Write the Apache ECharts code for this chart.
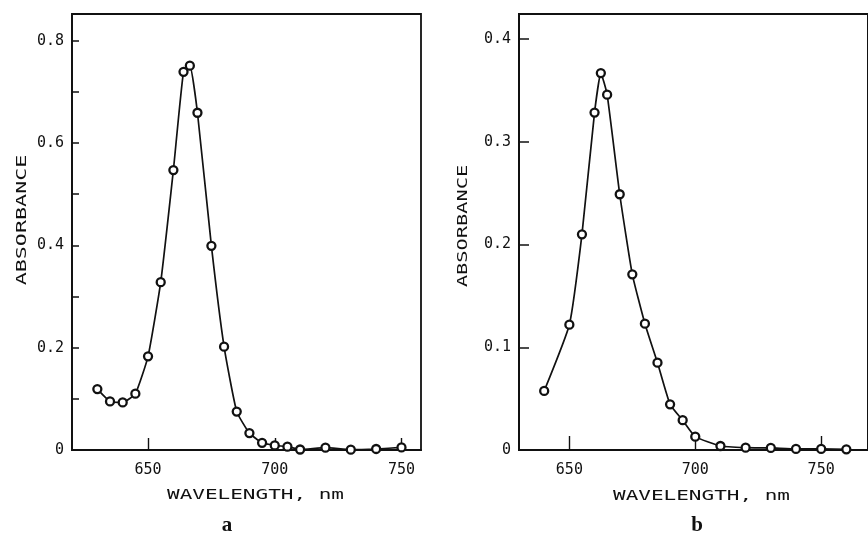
<!DOCTYPE html>
<html>
<head>
<meta charset="utf-8">
<script src="https://cdn.jsdelivr.net/npm/echarts@6/dist/echarts.min.js"></script>
<style>
html,body{margin:0;padding:0;background:#fff;}
#chart{width:868px;height:537px;}
</style>
</head>
<body>
<div id="chart"></div>
<script>
// Panel a
const wavelengthA = [630, 635, 640, 645, 650, 655, 660, 664, 666.5, 669.5, 675, 680, 685, 690, 695, 700, 705, 710, 720, 730, 740, 750];
const absorbanceA = [0.119, 0.095, 0.093, 0.110, 0.183, 0.328, 0.547, 0.739, 0.751, 0.659, 0.399, 0.202, 0.075, 0.033, 0.014, 0.009, 0.0065, 0.001, 0.0045, 0.0006, 0.002, 0.005];
// Panel b
const wavelengthB = [640, 650, 655, 660, 662.5, 665, 670, 675, 680, 685, 690, 695, 700, 710, 720, 730, 740, 750, 760];
const absorbanceB = [0.0575, 0.122, 0.210, 0.3285, 0.367, 0.346, 0.249, 0.171, 0.123, 0.085, 0.0445, 0.029, 0.013, 0.0039, 0.0023, 0.002, 0.001, 0.001, 0.0007];
// Ticks
const xTicks = [650, 700, 750];
const yTicksA = [0, 0.1, 0.2, 0.3, 0.4, 0.5, 0.6, 0.7, 0.8];
const yLabelsA = [0, 0.2, 0.4, 0.6, 0.8];
const yTicksB = [0, 0.1, 0.2, 0.3, 0.4];
const xTitle = 'WAVELENGTH, nm';
const yTitle = 'ABSORBANCE';
const panelNames = ['a', 'b'];

const INK = '#111';
const MONO = '"DejaVu Sans Mono", "Liberation Mono", monospace';

function fmtY(v) {
  if (Math.abs(v) < 1e-9) return '0';
  return (Math.round(v * 10) / 10).toFixed(1);
}

function xAxisCfg(idx, min, max, tickLen) {
  return {
    type: 'value', gridIndex: idx, min: min, max: max,
    axisLine: { show: true, lineStyle: { color: INK, width: 1.8 } },
    axisTick: { show: true, inside: true, length: tickLen, customValues: xTicks, lineStyle: { color: INK, width: 1.4 } },
    axisLabel: { show: true, customValues: xTicks, margin: 13, color: INK, fontFamily: MONO, fontSize: 15 },
    splitLine: { show: false }
  };
}
function yAxisCfg(idx, max, ticks, labels, tickLen) {
  return {
    type: 'value', gridIndex: idx, min: 0, max: max,
    axisLine: { show: true, lineStyle: { color: INK, width: 1.8 } },
    axisTick: { show: true, inside: true, length: tickLen, customValues: ticks, lineStyle: { color: INK, width: 1.5 } },
    axisLabel: { show: true, customValues: labels, margin: 8, color: INK, fontFamily: MONO, fontSize: 15, formatter: fmtY },
    splitLine: { show: false }
  };
}
function seriesCfg(idx, xs, ys) {
  return {
    type: 'line', xAxisIndex: idx, yAxisIndex: idx,
    data: xs.map((x, i) => [x, ys[i]]),
    smooth: 0.15,
    symbol: 'circle', symbolSize: 8,
    lineStyle: { color: INK, width: 1.7 },
    itemStyle: { color: '#fff', borderColor: INK, borderWidth: 2.3 },
    z: 5,
    animation: false
  };
}

const chart = echarts.init(document.getElementById('chart'), null, { renderer: 'canvas' });
chart.setOption({
  backgroundColor: '#fff',
  animation: false,
  grid: [
    { left: 72, top: 14, width: 349, height: 436, show: true, borderColor: INK, borderWidth: 1.8, containLabel: false },
    { left: 519, top: 14, width: 352, height: 436, show: true, borderColor: INK, borderWidth: 2, containLabel: false }
  ],
  xAxis: [xAxisCfg(0, 620, 757.7, 12), xAxisCfg(1, 630, 768.6, 14)],
  yAxis: [yAxisCfg(0, 0.852, yTicksA, yLabelsA, 7), yAxisCfg(1, 0.4245, yTicksB, yTicksB, 10)],
  series: [seriesCfg(0, wavelengthA, absorbanceA), seriesCfg(1, wavelengthB, absorbanceB)],
  graphic: [
    { type: 'text', x: 255.5, y: 495, scaleX: 1.5, style: { text: xTitle, fill: INK, font: '14px ' + MONO, textAlign: 'center', textVerticalAlign: 'middle' } },
    { type: 'text', x: 701.5, y: 496, scaleX: 1.5, style: { text: xTitle, fill: INK, font: '14px ' + MONO, textAlign: 'center', textVerticalAlign: 'middle' } },
    { type: 'text', x: 22, y: 220, rotation: Math.PI / 2, scaleX: 1.55, style: { text: yTitle, fill: INK, font: '14px ' + MONO, textAlign: 'center', textVerticalAlign: 'middle' } },
    { type: 'text', x: 463, y: 226, rotation: Math.PI / 2, scaleX: 1.45, style: { text: yTitle, fill: INK, font: '14px ' + MONO, textAlign: 'center', textVerticalAlign: 'middle' } },
    { type: 'text', x: 227, y: 526, style: { text: panelNames[0], fill: INK, font: 'bold 21px "Liberation Serif", "DejaVu Serif", serif', textAlign: 'center', textVerticalAlign: 'middle' } },
    { type: 'text', x: 697, y: 526, style: { text: panelNames[1], fill: INK, font: 'bold 21px "Liberation Serif", "DejaVu Serif", serif', textAlign: 'center', textVerticalAlign: 'middle' } }
  ]
});
</script>
</body>
</html>
